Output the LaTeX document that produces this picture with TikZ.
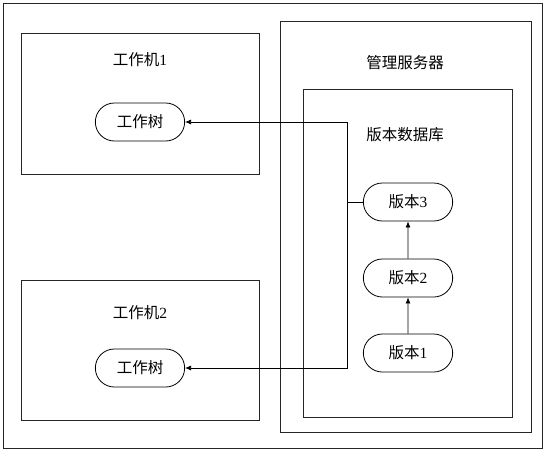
\documentclass[tikz,border=0pt]{standalone}
\usepackage{fontspec}
\setmainfont{Liberation Serif}
\newfontfamily\cjk{Noto Sans CJK SC}
\usetikzlibrary{positioning, arrows.meta, shapes}
\begin{document}
\begin{tikzpicture}[x=1pt,y=-1pt,font=\fontsize{15.5}{17}\selectfont,
			frame/.style={draw,black!85,line width=0.8pt},
			title/.style={inner sep=0pt},
			ver/.style={rounded rectangle,draw,line width=0.8pt,minimum width=96pt,minimum height=38pt},
			link/.style={line width=0.7pt,-{Latex[length=6pt,width=5pt]}}]
		\useasboundingbox (0,0) rectangle (545,451);
		% boxes
		\draw[frame] (3,3) rectangle (542,448);
		\draw[frame] (21,33) rectangle (259,174);
		\draw[frame] (21,280) rectangle (259,420);
		\draw[frame] (280,21) rectangle (531,432);
		\draw[frame] (303,89) rectangle (512,417);
		\node[title] (m1) at (140,60) {{\cjk 工作机}1};
		\node[title] (m2) at (140,313) {{\cjk 工作机}2};
		\node[title] (srv) at (405,63) {\cjk 管理服务器};
		\node[title] (db) at (405,135) {\cjk 版本数据库};
		% work trees
		\node[ver] (wt1) at (140,122) {\cjk 工作树};
		\node[ver] (wt2) at (140,368) {\cjk 工作树};
		% versions
		\foreach \i/\y in {1/353,2/278,3/202}
			\node[ver] (v\i) at (408,\y) {{\cjk 版本}\i};
		\foreach \a/\b in {1/2,2/3}
			\draw[link] (v\a) -- (v\b);
		\coordinate (split) at (347,202);
		\draw[line width=0.7pt] (v3.west) -- (split);
		\draw[link] (split) |- (wt1.east);
		\draw[link] (split) |- (wt2.east);
	\end{tikzpicture}
\end{document}
